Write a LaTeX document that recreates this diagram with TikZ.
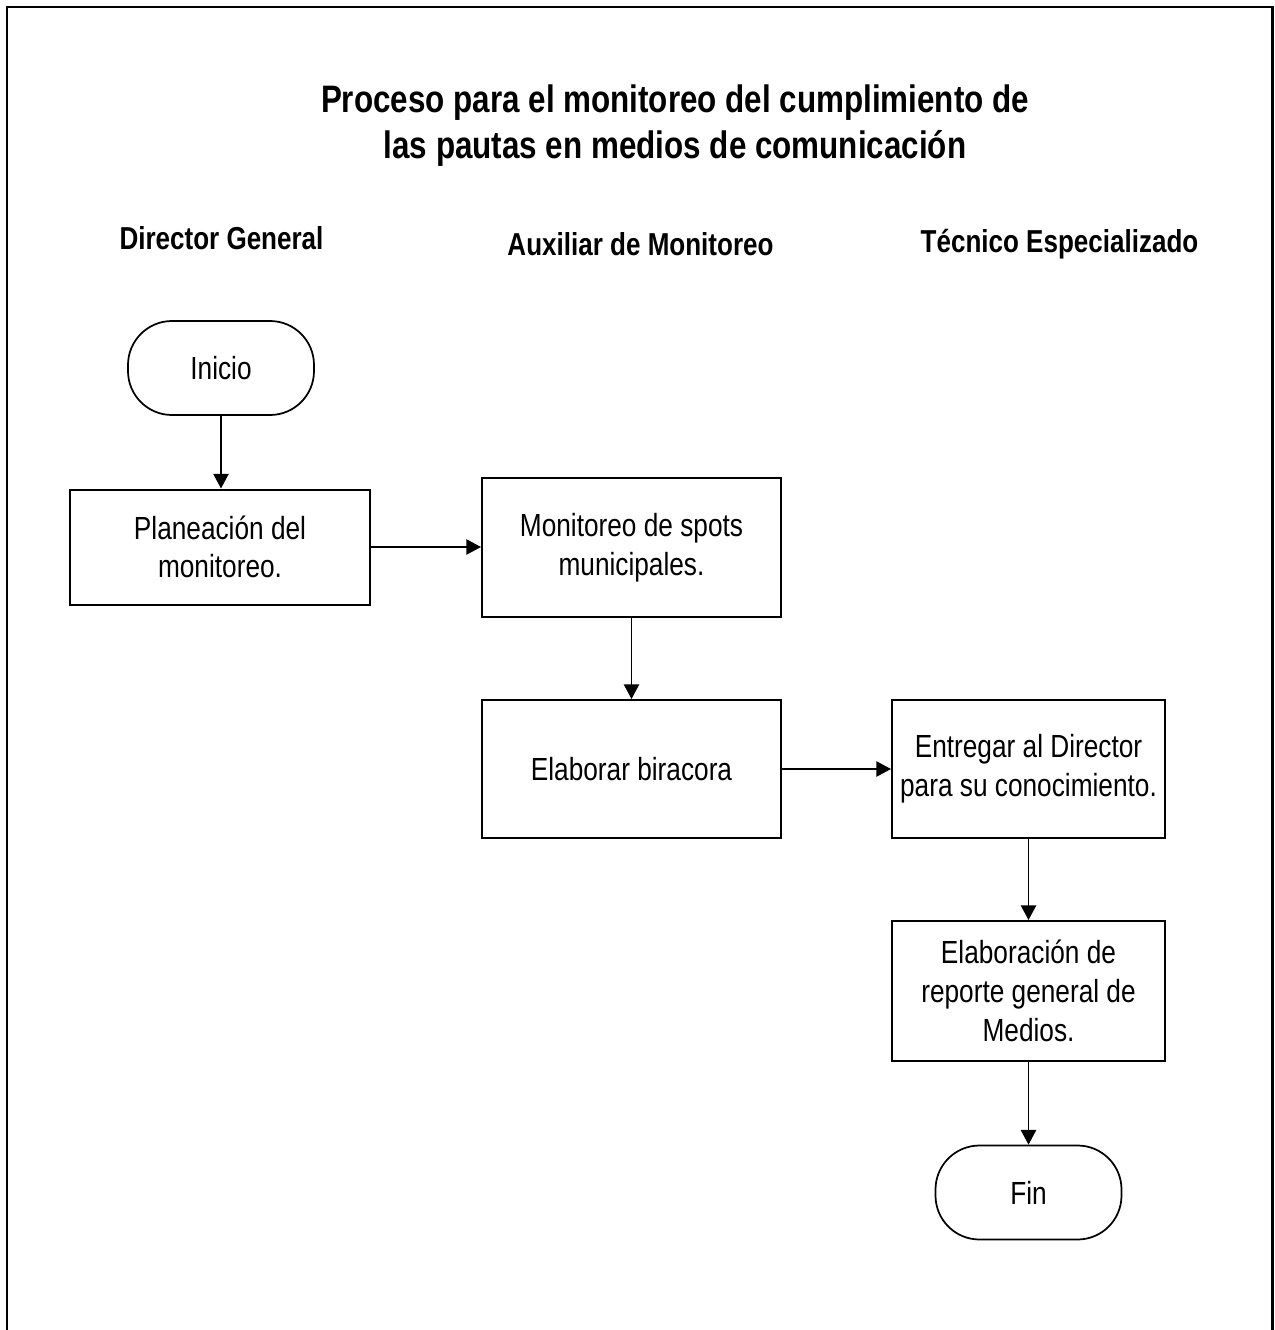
\documentclass[tikz,border=0pt]{standalone}
\usepackage{fontspec}
\setmainfont{Liberation Sans}[FakeStretch=0.82]
\usetikzlibrary{arrows.meta}
\begin{document}
\begin{tikzpicture}[x=0.75pt,y=-0.75pt,
  every node/.style={inner sep=0pt, align=center},
  txt/.style={font=\fontsize{24}{29}\selectfont},
  hdr/.style={font=\fontsize{23.8}{29}\selectfont\bfseries},
  procbox/.style={draw, line width=1.5pt, txt},
  termbox/.style={draw, line width=1.3pt, rounded corners=33pt, txt, minimum width=139.5pt, minimum height=70.5pt},
  flow/.style={line width=1.1pt, -{Triangle[length=11pt,width=11.5pt]}}
]
\useasboundingbox (0,0) rectangle (1274,1330);
\fill[white] (0,0) rectangle (1274,1330);
\draw[line width=2pt] (7,1335) -- (7,7) -- (1272.5,7) -- (1272.5,1335);

\node[font=\fontsize{28.7}{34.5}\selectfont\bfseries] (title) at (675,126)
  {Proceso para el monitoreo del cumplimiento de\\las pautas en medios de comunicación};

\node[hdr] (h1) at (221.5,238) {Director General};
\node[hdr] (h2) at (640.5,244) {Auxiliar de Monitoreo};
\node[hdr] (h3) at (1059.5,244) {Técnico Especializado};

\node[termbox] (inicio) at (221,368) {Inicio};
\node[procbox, minimum width=225pt, minimum height=86.25pt] (plan) at (220,547) {Planeación del\\monitoreo.};
\node[procbox, minimum width=224.25pt, minimum height=104.25pt] (moni) at (631.5,547.5) {Monitoreo de spots\\municipales.};
\node[procbox, minimum width=224.25pt, minimum height=103.5pt] (bita) at (631.5,769) {Elaborar biracora};
\node[procbox, minimum width=204.75pt, minimum height=103.5pt] (entr) at (1028.5,769) {Entregar al Director\\para su conocimiento.};
\node[procbox, minimum width=204.75pt, minimum height=105pt] (repo) at (1028.5,991) {Elaboración de\\reporte general de\\Medios.};
\node[termbox] (fin) at (1028.5,1192.5) {Fin};

\draw[flow] (inicio.south) -- (inicio.south |- plan.north);
\draw[flow] (plan.east) -- (plan.east -| moni.west);
\draw[flow] (moni.south) -- (bita.north);
\draw[flow] (bita.east) -- (entr.west);
\draw[flow] (entr.south) -- (repo.north);
\draw[flow] (repo.south) -- (fin.north);
\end{tikzpicture}
\end{document}
